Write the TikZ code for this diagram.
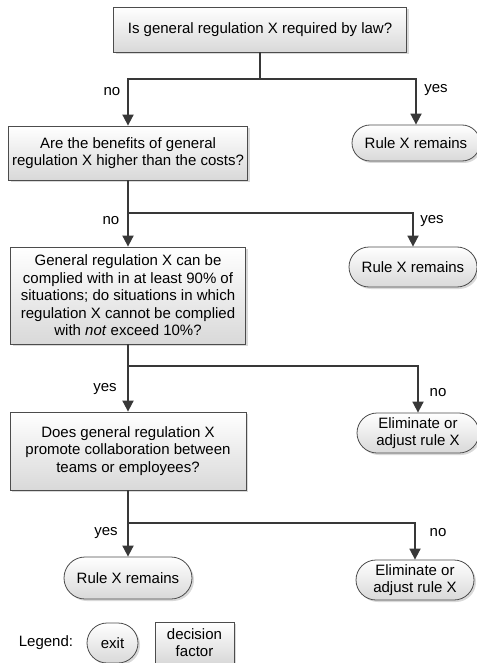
\documentclass[tikz,border=0pt]{standalone}
\usepackage{fontspec}
\setmainfont{Liberation Sans}
\usetikzlibrary{arrows.meta,shadows,shapes.misc}

\begin{document}
\begin{tikzpicture}[x=1pt, y=-1pt,
        font=\fontsize{15}{17.5}\selectfont,
        decision/.style={draw=black!70, line width=0.8pt, top color=white, bottom color=black!15,
            drop shadow={shadow xshift=2pt, shadow yshift=-2pt, opacity=0.3},
            align=center, inner sep=0pt},
        exitnode/.style={decision, rounded rectangle},
        flow/.style={draw=black!78, line width=1.8pt},
        arrow/.style={flow, -{Triangle[width=11pt,length=11pt]}}]
        \useasboundingbox (0,0) rectangle (476,663);

        % --- Decision factors ---
        \node[decision, minimum width=293pt, minimum height=45pt] (q1) at (260,29.5)
            {Is general regulation X required by law?};
        \node[decision, minimum width=239pt, minimum height=54pt] (q2) at (128,153)
            {Are the benefits of general\\regulation X higher than the costs?};
        \node[decision, minimum width=235pt, minimum height=97pt] (q3) at (128,295.5)
            {General regulation X can be\\complied with in at least 90\% of\\situations; do situations in which\\regulation X cannot be complied\\with \textit{not} exceed 10\%?};
        \node[decision, minimum width=236pt, minimum height=78pt] (q4) at (128,451)
            {Does general regulation X\\promote collaboration between\\teams or employees?};

        % --- Exits ---
        \node[exitnode, minimum width=128pt, minimum height=36pt] (r1) at (416,143) {Rule X remains};
        \node[exitnode, minimum width=128pt, minimum height=40pt] (r2) at (413,267) {Rule X remains};
        \node[exitnode, minimum width=122pt, minimum height=40pt] (el1) at (418,433) {Eliminate or\\adjust rule X};
        \node[exitnode, minimum width=128pt, minimum height=42pt] (r3) at (128,578) {Rule X remains};
        \node[exitnode, minimum width=118pt, minimum height=40pt] (el2) at (415,580) {Eliminate or\\adjust rule X};

        % --- Branch points ---
        \coordinate (j1) at (260,79);
        \coordinate (j2) at (128,213);
        \coordinate (j3) at (128,366);
        \coordinate (j4) at (128,523);

        % --- Connectors ---
        \draw[flow] (q1.south) -- (j1);
        \draw[arrow] (j1) -| (q2.north);
        \draw[arrow] (j1) -| (r1.north);

        \draw[flow] (q2.south) -- (j2);
        \draw[arrow] (j2) -- (q3.north);
        \draw[arrow] (j2) -| (r2.north);

        \draw[flow] (q3.south) -- (j3);
        \draw[arrow] (j3) -- (q4.north);
        \draw[arrow] (j3) -| (el1.north);

        \draw[flow] (q4.south) -- (j4);
        \draw[arrow] (j4) -- (r3.north);
        \draw[arrow] (j4) -| (el2.north);

        % --- Answers ---
        \node (no1) at (112,92) {no};
        \node (yes1) at (436,90) {yes};
        \node (no2) at (111,221) {no};
        \node (yes2) at (432,221) {yes};
        \node (yes3) at (105,389) {yes};
        \node (no3) at (438,393) {no};
        \node (yes4) at (106,533) {yes};
        \node (no4) at (438,533) {no};

        % --- Legend ---
        \node (legend) at (46,643) {Legend:};
        \node[exitnode, minimum width=51pt, minimum height=40pt] (lexit) at (112.5,643) {exit};
        \node[decision, minimum width=79pt, minimum height=41pt] (ldec) at (194.5,642.5) {decision\\factor};
\end{tikzpicture}
\end{document}
